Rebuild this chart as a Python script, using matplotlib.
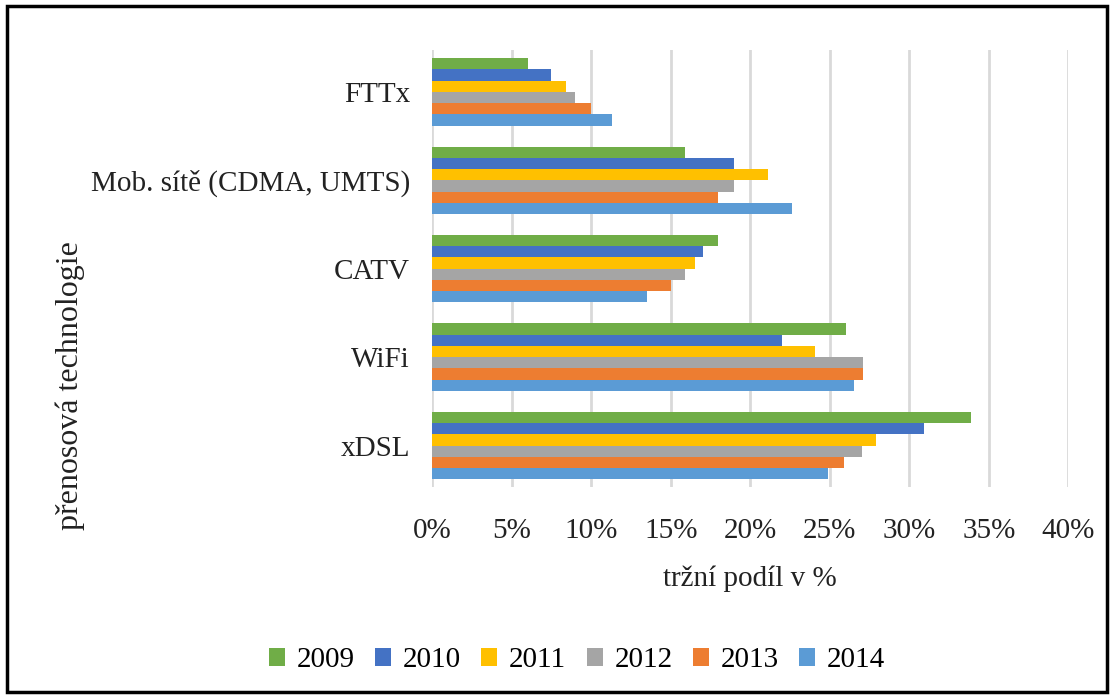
import numpy as np
import matplotlib
matplotlib.use('Agg')
import matplotlib.pyplot as plt
from matplotlib.patches import Rectangle
from matplotlib.ticker import PercentFormatter

# data (market share in %)
categories = ['xDSL', 'WiFi', 'CATV', 'Mob. sítě (CDMA, UMTS)', 'FTTx']
years = ['2009', '2010', '2011', '2012', '2013', '2014']
share_2009 = [33.9, 26.0, 18.0, 15.9, 6.0]
share_2010 = [30.9, 22.0, 17.0, 19.0, 7.5]
share_2011 = [27.9, 24.1, 16.5, 21.1, 8.4]
share_2012 = [27.0, 27.1, 15.9, 19.0, 9.0]
share_2013 = [25.9, 27.1, 15.0, 18.0, 10.0]
share_2014 = [24.9, 26.5, 13.5, 22.6, 11.3]
series = [share_2009, share_2010, share_2011, share_2012, share_2013, share_2014]
colors = ['#70AD47', '#4472C4', '#FFC000', '#A5A5A5', '#ED7D31', '#5B9BD5']

plt.rcParams['font.family'] = ['Liberation Serif', 'DejaVu Serif']

fig = plt.figure(figsize=(11.14, 6.98), dpi=100)
ax = fig.add_axes([0.388, 0.302, 0.571, 0.626])

y = np.arange(len(categories))
h = 0.127
for i, vals in enumerate(series):
    ax.barh(y + (2.5 - i) * h, vals, height=h, color=colors[i],
            label=years[i], zorder=3)

ax.set_xlim(0, 40)
ax.set_ylim(-0.47, 4.47)
ax.set_xticks(np.arange(0, 41, 5))
ax.xaxis.set_major_formatter(PercentFormatter(decimals=0))
ax.set_yticks(y)
ax.set_yticklabels(categories)
ax.grid(axis='x', color='#D9D9D9', linewidth=2, zorder=0)
for s in ax.spines.values():
    s.set_visible(False)
ax.tick_params(axis='both', length=0, labelsize=21, colors='#222222')
ax.tick_params(axis='x', pad=22)
ax.tick_params(axis='y', pad=16)

ax.set_xlabel('tržní podíl v %', fontsize=21, color='#222222', labelpad=16)
fig.text(0.063, 0.448, 'přenosová technologie', rotation=90, fontsize=23,
         color='#222222', ha='center', va='center')

fig.legend(loc='center', bbox_to_anchor=(0.518, 0.054), ncol=6,
           frameon=False, fontsize=21, handlelength=0.55, handleheight=0.55,
           handletextpad=0.4, columnspacing=0.7)

# outer border like the screenshot
fig.add_artist(Rectangle((0.006, 0.008), 0.988, 0.984, transform=fig.transFigure,
                         fill=False, edgecolor='black', linewidth=2.5))

fig.savefig('out.png', dpi=100)
